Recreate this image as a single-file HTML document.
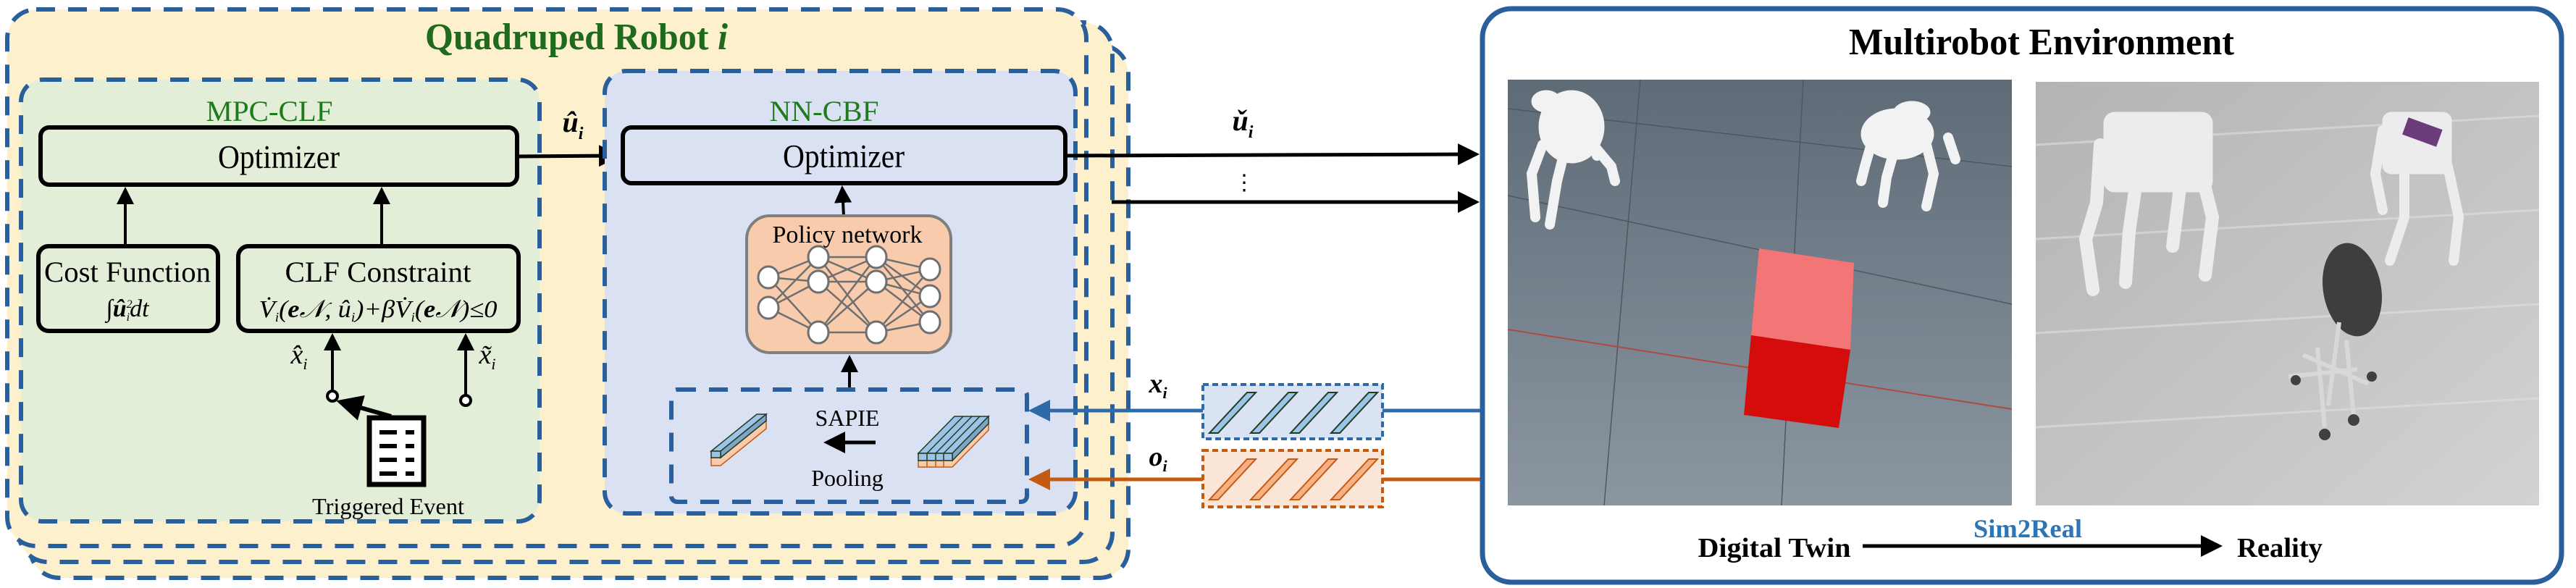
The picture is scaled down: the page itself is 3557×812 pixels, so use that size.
<!DOCTYPE html>
<html><head><meta charset="utf-8"><style>
html,body{margin:0;padding:0;background:#fff;}
svg{display:block;font-family:"Liberation Serif",serif;}
</style></head><body>
<svg width="3557" height="812" viewBox="0 0 3557 812" xmlns="http://www.w3.org/2000/svg">
<defs>
<marker id="ah" markerWidth="6" markerHeight="6" refX="5" refY="3" orient="auto" markerUnits="strokeWidth"><path d="M0,0 L6,3 L0,6 z" fill="#000"/></marker>
<marker id="ahb" markerWidth="6" markerHeight="6" refX="5" refY="3" orient="auto" markerUnits="strokeWidth"><path d="M0,0 L6,3 L0,6 z" fill="#2e6aa8"/></marker>
<marker id="aho" markerWidth="6" markerHeight="6" refX="5" refY="3" orient="auto" markerUnits="strokeWidth"><path d="M0,0 L6,3 L0,6 z" fill="#c55a11"/></marker>
<linearGradient id="g1" x1="0" y1="0" x2="0" y2="1"><stop offset="0" stop-color="#5e6b77"/><stop offset="1" stop-color="#8b96a0"/></linearGradient>
<linearGradient id="g2" x1="0" y1="0" x2="1" y2="1"><stop offset="0" stop-color="#b4b4b4"/><stop offset="1" stop-color="#d2d2d2"/></linearGradient>
</defs>

<g fill="#fdf0cc" stroke="#2a5f9e" stroke-width="6" stroke-dasharray="26 18">
<rect x="42" y="62" width="1516" height="736" rx="40"/>
<rect x="26" y="31" width="1510" height="745" rx="40"/>
<rect x="10" y="13" width="1490" height="741" rx="40"/>
</g>
<text x="796" y="68" font-size="52" font-weight="bold" fill="#1e6b1e" text-anchor="middle" textLength="418" lengthAdjust="spacingAndGlyphs">Quadruped Robot <tspan font-style="italic">i</tspan></text>

<rect x="29" y="110" width="716" height="610" rx="30" fill="#e3eed8" stroke="#2a5f9e" stroke-width="6" stroke-dasharray="26 18"/>
<text x="372" y="167" font-size="40" fill="#1e7b1e" text-anchor="middle" textLength="175" lengthAdjust="spacingAndGlyphs">MPC-CLF</text>
<rect x="56" y="176" width="658" height="79" rx="12" fill="#e3eed8" stroke="#000" stroke-width="6"/>
<text x="385" y="232" font-size="45" text-anchor="middle" textLength="168" lengthAdjust="spacingAndGlyphs">Optimizer</text>
<rect x="53" y="340" width="248" height="117" rx="14" fill="#e3eed8" stroke="#000" stroke-width="6"/>
<text x="176" y="389" font-size="40" text-anchor="middle" textLength="230" lengthAdjust="spacingAndGlyphs">Cost Function</text>
<text x="176" y="437" font-size="34" font-style="italic" text-anchor="middle">∫<tspan font-weight="bold">û</tspan><tspan font-size="16" dy="-12">2</tspan><tspan font-size="16" dx="-8" dy="18">i</tspan><tspan dy="-6">dt</tspan></text>
<rect x="329" y="340" width="387" height="117" rx="14" fill="#e3eed8" stroke="#000" stroke-width="6"/>
<text x="522" y="389" font-size="40" text-anchor="middle" textLength="257" lengthAdjust="spacingAndGlyphs">CLF Constraint</text>
<text x="522" y="438" font-size="34" font-style="italic" text-anchor="middle" textLength="329" lengthAdjust="spacingAndGlyphs">V̇<tspan font-size="18" dy="6">i</tspan><tspan dy="-6">(</tspan><tspan font-weight="bold">e</tspan>𝒩, û<tspan font-size="18" dy="6">i</tspan><tspan dy="-6">)+βV̇</tspan><tspan font-size="18" dy="6">i</tspan><tspan dy="-6">(</tspan><tspan font-weight="bold">e</tspan>𝒩)≤0</text>
<g stroke="#000" stroke-width="4" fill="none">
<line x1="173" y1="340" x2="173" y2="262" marker-end="url(#ah)"/>
<line x1="527" y1="340" x2="527" y2="262" marker-end="url(#ah)"/>
<line x1="459" y1="540" x2="459" y2="464" marker-end="url(#ah)"/>
<line x1="643" y1="545" x2="643" y2="464" marker-end="url(#ah)"/>
<circle cx="459" cy="547" r="7" fill="#fff"/>
<circle cx="643" cy="553" r="7" fill="#fff"/>
<line x1="540" y1="575" x2="470" y2="555" stroke-width="6" marker-end="url(#ah)"/>
</g>
<text x="413" y="502" font-size="38" font-style="italic" text-anchor="middle">x̂<tspan font-size="22" dy="8">i</tspan></text>
<text x="673" y="502" font-size="38" font-style="italic" text-anchor="middle">x̃<tspan font-size="22" dy="8">i</tspan></text>
<g>
<rect x="510" y="577" width="75" height="92" fill="#fff" stroke="#000" stroke-width="7"/>
<g stroke="#000" stroke-width="6">
<line x1="524" y1="597" x2="548" y2="597"/><line x1="560" y1="597" x2="572" y2="597"/>
<line x1="524" y1="616" x2="548" y2="616"/><line x1="560" y1="616" x2="572" y2="616"/>
<line x1="524" y1="635" x2="548" y2="635"/><line x1="560" y1="635" x2="572" y2="635"/>
<line x1="524" y1="654" x2="548" y2="654"/><line x1="560" y1="654" x2="572" y2="654"/>
</g></g>
<text x="536" y="710" font-size="32" text-anchor="middle" textLength="210" lengthAdjust="spacingAndGlyphs">Triggered Event</text>

<line x1="714" y1="216" x2="852" y2="215" stroke="#000" stroke-width="5" marker-end="url(#ah)"/>
<text x="791" y="182" font-size="40" font-style="italic" font-weight="bold" text-anchor="middle">û<tspan font-size="24" dy="10">i</tspan></text>

<rect x="835" y="98" width="650" height="611" rx="30" fill="#d9e1f2" stroke="#2a5f9e" stroke-width="6" stroke-dasharray="26 18"/>
<text x="1138" y="167" font-size="40" fill="#1e7b1e" text-anchor="middle" textLength="151" lengthAdjust="spacingAndGlyphs">NN-CBF</text>
<rect x="860" y="176" width="611" height="77" rx="12" fill="#d9e1f2" stroke="#000" stroke-width="6"/>
<text x="1165" y="231" font-size="45" text-anchor="middle" textLength="168" lengthAdjust="spacingAndGlyphs">Optimizer</text>
<line x1="1165" y1="298" x2="1163" y2="260" stroke="#000" stroke-width="4" marker-end="url(#ah)"/>
<rect x="1031" y="298" width="282" height="189" rx="32" fill="#f8cbad" stroke="#7f7f7f" stroke-width="4"/>
<text x="1170" y="335" font-size="34" text-anchor="middle" textLength="207" lengthAdjust="spacingAndGlyphs">Policy network</text>
<g stroke="#6f6f6f" stroke-width="2.5">
<g id="edges"></g>
</g>
<line x1="1173" y1="538" x2="1173" y2="494" stroke="#000" stroke-width="4" marker-end="url(#ah)"/>

<rect x="927" y="538" width="491" height="155" rx="8" fill="none" stroke="#2a5f9e" stroke-width="6" stroke-dasharray="26 18"/>
<text x="1170" y="588" font-size="32" text-anchor="middle">SAPIE</text>
<line x1="1209" y1="611" x2="1142" y2="611" stroke="#000" stroke-width="5" marker-end="url(#ah)"/>
<text x="1170" y="671" font-size="32" text-anchor="middle">Pooling</text>
<g stroke-width="1.5">
<polygon points="982,632 995,632 1058,581 1058,592 995,643 982,643" fill="#f8cbad" stroke="#c55a11"/>
<polygon points="982,623 1045,572 1058,572 995,623" fill="#9dc3e6" stroke="#1e3d1e"/>
<polygon points="995,623 1058,572 1058,581 995,632" fill="#7fa4c8" stroke="#1e3d1e"/>
<rect x="982" y="623" width="13" height="9" fill="#9dc3e6" stroke="#1e3d1e"/>
</g>
<g stroke-width="1.5">
<polygon points="1268,636 1315,636 1365,585 1365,594 1315,645 1268,645" fill="#f8cbad" stroke="#c55a11"/>
<polygon points="1268,626 1318,575 1365,575 1315,626" fill="#9dc3e6" stroke="#1e3d1e"/>
<polygon points="1315,626 1365,575 1365,585 1315,636" fill="#7fa4c8" stroke="#1e3d1e"/>
<g stroke="#1e3d1e"><line x1="1280" y1="626" x2="1330" y2="575"/><line x1="1292" y1="626" x2="1342" y2="575"/><line x1="1303" y1="626" x2="1353" y2="575"/></g>
<rect x="1268" y="626" width="47" height="10" fill="#9dc3e6" stroke="#1e3d1e"/>
<g stroke="#1e3d1e"><line x1="1280" y1="626" x2="1280" y2="636"/><line x1="1292" y1="626" x2="1292" y2="636"/><line x1="1303" y1="626" x2="1303" y2="636"/></g>
<g stroke="#c55a11"><line x1="1280" y1="636" x2="1280" y2="645"/><line x1="1292" y1="636" x2="1292" y2="645"/><line x1="1303" y1="636" x2="1303" y2="645"/></g>
</g>

<line x1="1471" y1="215" x2="2038" y2="213" stroke="#000" stroke-width="5" marker-end="url(#ah)"/>
<line x1="1535" y1="279" x2="2038" y2="279" stroke="#000" stroke-width="5" marker-end="url(#ah)"/>
<text x="1716" y="180" font-size="40" font-style="italic" font-weight="bold" text-anchor="middle">ǔ<tspan font-size="24" dy="10">i</tspan></text>
<text x="1718" y="262" font-size="30" text-anchor="middle">⋮</text>

<line x1="2044" y1="567" x2="1425" y2="567" stroke="#2e6aa8" stroke-width="5" marker-end="url(#ahb)"/>
<line x1="2044" y1="662" x2="1425" y2="662" stroke="#c55a11" stroke-width="5" marker-end="url(#aho)"/>
<rect x="1661" y="531" width="248" height="75" fill="#dae3f3" stroke="#2e6aa8" stroke-width="4" stroke-dasharray="8 5"/>
<rect x="1661" y="622" width="248" height="78" fill="#fbe5d6" stroke="#c55a11" stroke-width="4" stroke-dasharray="8 5"/>
<g id="strips"></g>
<text x="1599" y="542" font-size="38" font-style="italic" font-weight="bold" text-anchor="middle">x<tspan font-size="22" dy="8">i</tspan></text>
<text x="1599" y="643" font-size="38" font-style="italic" font-weight="bold" text-anchor="middle">o<tspan font-size="22" dy="8">i</tspan></text>

<rect x="2047" y="12" width="1490" height="792" rx="40" fill="#fff" stroke="#2a5f9e" stroke-width="7"/>
<text x="2819" y="75" font-size="52" font-weight="bold" text-anchor="middle" textLength="532" lengthAdjust="spacingAndGlyphs">Multirobot Environment</text>
<g>
<rect x="2082" y="110" width="696" height="588" fill="url(#g1)"/>
<g stroke="#4d5863" stroke-width="1.5" fill="none"><line x1="2082" y1="150" x2="2778" y2="230"/><line x1="2082" y1="270" x2="2778" y2="420"/><line x1="2265" y1="110" x2="2215" y2="698"/><line x1="2490" y1="110" x2="2460" y2="698"/></g>
<line x1="2082" y1="455" x2="2778" y2="565" stroke="#b04a40" stroke-width="2"/>
<polygon points="2429,343 2560,363 2555,483 2418,463" fill="#f47575"/>
<polygon points="2418,463 2555,483 2539,591 2408,573" fill="#d40c0c"/>
<g fill="#f2f2f2" stroke="#f2f2f2" stroke-linecap="round">
<ellipse cx="2170" cy="175" rx="45" ry="50"/><ellipse cx="2135" cy="140" rx="20" ry="15"/>
<path d="M2130,200 L2115,240 L2120,300 M2160,210 L2150,250 L2140,310 M2200,200 L2225,230 L2230,250 M2195,170 L2205,215" stroke-width="14" fill="none"/>
<ellipse cx="2620" cy="185" rx="50" ry="35"/><ellipse cx="2640" cy="155" rx="25" ry="15"/>
<path d="M2585,195 L2575,230 L2570,250 M2615,210 L2605,245 L2600,280 M2660,200 L2670,240 L2660,285 M2690,190 L2700,220" stroke-width="14" fill="none"/>
</g>
</g>
<g>
<rect x="2811" y="113" width="695" height="585" fill="url(#g2)"/>
<g stroke="#e0e0e0" stroke-width="3" opacity="0.6"><line x1="2811" y1="200" x2="3506" y2="160"/><line x1="2811" y1="330" x2="3506" y2="290"/><line x1="2811" y1="460" x2="3506" y2="420"/><line x1="2811" y1="590" x2="3506" y2="550"/></g>
<g fill="#ececee" stroke="#ececee" stroke-linecap="round">
<rect x="2905" y="155" width="150" height="110" rx="15"/>
<path d="M2900,200 L2895,280 L2880,330 L2890,400 M2950,250 L2940,320 L2935,390 M3040,240 L3055,300 L3045,380 M3010,260 L3000,340" stroke-width="18" fill="none"/>
<rect x="3290" y="155" width="95" height="85" rx="12"/>
<path d="M3290,180 L3280,240 L3290,290 M3320,230 L3320,300 L3300,360 M3380,230 L3395,300 L3388,360" stroke-width="14" fill="none"/>
</g>
<rect x="3320" y="170" width="50" height="25" fill="#6b3b7a" transform="rotate(20 3345 182)"/>
<ellipse cx="3248" cy="400" rx="40" ry="65" fill="#3e3e3e" transform="rotate(-10 3248 400)"/>
<g stroke="#d8d8d8" stroke-width="6" fill="none"><path d="M3230,445 L3215,560 M3180,490 L3270,530 M3200,480 L3210,590 M3240,470 L3250,575 M3160,520 L3255,510"/></g>
<g fill="#404040"><circle cx="3170" cy="525" r="7"/><circle cx="3250" cy="580" r="8"/><circle cx="3210" cy="600" r="8"/><circle cx="3275" cy="520" r="7"/></g>
</g>
<text x="2450" y="769" font-size="38" font-weight="bold" text-anchor="middle" textLength="211" lengthAdjust="spacingAndGlyphs">Digital Twin</text>
<line x1="2572" y1="754" x2="3064" y2="754" stroke="#000" stroke-width="5" marker-end="url(#ah)"/>
<text x="2800" y="742" font-size="36" font-weight="bold" fill="#2e75b6" text-anchor="middle" textLength="150" lengthAdjust="spacingAndGlyphs">Sim2Real</text>
<text x="3148" y="769" font-size="38" font-weight="bold" text-anchor="middle" textLength="118" lengthAdjust="spacingAndGlyphs">Reality</text>
</svg>
<script>
const NS='http://www.w3.org/2000/svg';
const layers=[[[1061,383],[1061,425]],[[1130,355],[1130,389],[1130,459]],[[1210,355],[1210,389],[1210,459]],[[1284,372],[1284,409],[1284,445]]];
const edges=document.getElementById('edges');
for(let l=0;l<layers.length-1;l++){for(const a of layers[l]){for(const b of layers[l+1]){
const ln=document.createElementNS(NS,'line');
ln.setAttribute('x1',a[0]);ln.setAttribute('y1',a[1]);ln.setAttribute('x2',b[0]);ln.setAttribute('y2',b[1]);


edges.appendChild(ln);}}}
for(const L of layers){for(const p of L){
const c=document.createElementNS(NS,'ellipse');
c.setAttribute('cx',p[0]);c.setAttribute('cy',p[1]);c.setAttribute('rx',14);c.setAttribute('ry',15);
c.setAttribute('fill','#fff');c.setAttribute('stroke','#6f6f6f');c.setAttribute('stroke-width','3');


edges.parentNode.appendChild(c);}}
const strips=document.getElementById('strips');
const xs=[1670,1727,1782,1838];
for(const [y0,fill,st] of [[598,'#9dc3e6','#1e3d1e'],[690,'#f4b183','#c55a11']]){
for(const x of xs){
const p=document.createElementNS(NS,'polygon');
p.setAttribute('points',`${x},${y0} ${x+12},${y0} ${x+64},${y0-56} ${x+52},${y0-56}`);
p.setAttribute('fill',fill);p.setAttribute('stroke',st);p.setAttribute('stroke-width','2');


strips.appendChild(p);}}
</script>
</body></html>
